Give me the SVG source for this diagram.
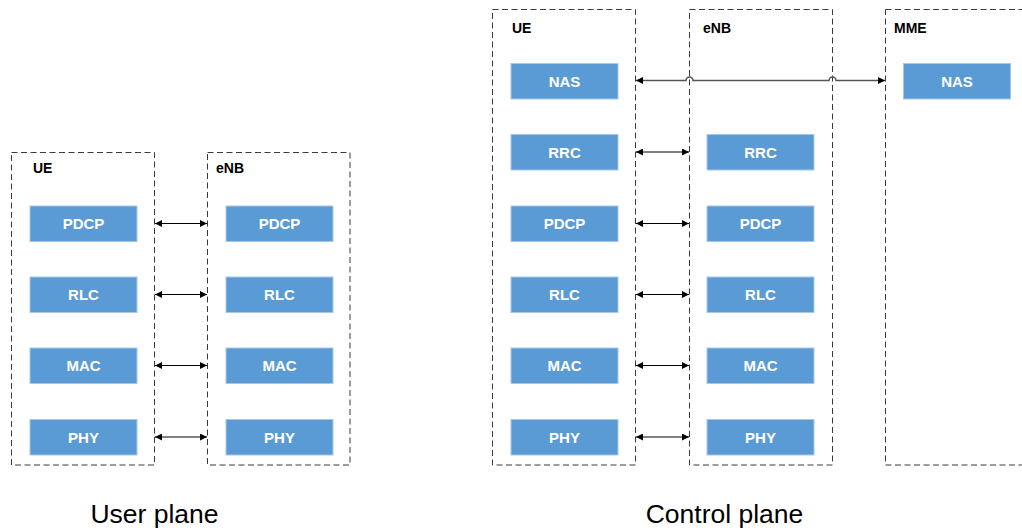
<svg xmlns="http://www.w3.org/2000/svg" width="1022" height="530" viewBox="0 0 1022 530">
<style>
.box{fill:none;stroke:#3a3a3a;stroke-width:1;stroke-dasharray:6 3.5}
.blk{fill:#5b9bd5;stroke:#a8c8e8;stroke-width:1}
.bt{font-family:"Liberation Sans",Arial,sans-serif;font-weight:bold;font-size:15px;fill:#ffffff;text-anchor:middle}
.lbl{font-family:"Liberation Sans",Arial,sans-serif;font-weight:bold;font-size:14px;fill:#000}
.cap{font-family:"Liberation Sans",Arial,sans-serif;font-size:26.5px;fill:#000;text-anchor:middle}
.ar{stroke:#000;stroke-width:1;fill:none;marker-start:url(#ah);marker-end:url(#ah)}
.ar2{stroke:#555;stroke-width:1.5;fill:none;marker-start:url(#ah2);marker-end:url(#ah2)}
</style>
<defs>
<marker id="ah" viewBox="0 0 10 10" refX="10" refY="5" markerWidth="9" markerHeight="7" markerUnits="userSpaceOnUse" orient="auto-start-reverse"><path d="M0,0 L10,5 L0,10 z" fill="#000"/></marker>
<marker id="ah2" viewBox="0 0 10 10" refX="10" refY="5" markerWidth="9" markerHeight="7" markerUnits="userSpaceOnUse" orient="auto-start-reverse"><path d="M0,0 L10,5 L0,10 z" fill="#000"/></marker>
</defs>
<rect width="1022" height="530" fill="#fff"/>

<g id="up-ue">
<rect class="box" x="11.5" y="152.5" width="143" height="312.5"/>
<text class="lbl" x="33" y="173">UE</text>
</g>
<g id="up-enb">
<rect class="box" x="207.5" y="152.5" width="142.5" height="312.5"/>
<text class="lbl" x="216" y="173">eNB</text>
</g>
<g id="cp-ue">
<rect class="box" x="492.5" y="9.5" width="143" height="455.5"/>
<text class="lbl" x="512" y="33">UE</text>
</g>
<g id="cp-enb">
<rect class="box" x="689.5" y="9.5" width="143" height="455.5"/>
<text class="lbl" x="703" y="33">eNB</text>
</g>
<g id="cp-mme">
<rect class="box" x="885.5" y="9.5" width="160" height="455.5"/>
<text class="lbl" x="894" y="33">MME</text>
</g>

<g id="up-ue-pdcp"><rect class="blk" x="30" y="206" width="107" height="35.5"/><text class="bt" x="83.5" y="229">PDCP</text></g>
<g id="up-ue-rlc"><rect class="blk" x="30" y="277" width="107" height="35.5"/><text class="bt" x="83.5" y="300">RLC</text></g>
<g id="up-ue-mac"><rect class="blk" x="30" y="348" width="107" height="35.5"/><text class="bt" x="83.5" y="371">MAC</text></g>
<g id="up-ue-phy"><rect class="blk" x="30" y="419.5" width="107" height="35.5"/><text class="bt" x="83.5" y="442.5">PHY</text></g>

<g id="up-enb-pdcp"><rect class="blk" x="226" y="206" width="107" height="35.5"/><text class="bt" x="279.5" y="229">PDCP</text></g>
<g id="up-enb-rlc"><rect class="blk" x="226" y="277" width="107" height="35.5"/><text class="bt" x="279.5" y="300">RLC</text></g>
<g id="up-enb-mac"><rect class="blk" x="226" y="348" width="107" height="35.5"/><text class="bt" x="279.5" y="371">MAC</text></g>
<g id="up-enb-phy"><rect class="blk" x="226" y="419.5" width="107" height="35.5"/><text class="bt" x="279.5" y="442.5">PHY</text></g>

<g id="cp-ue-nas"><rect class="blk" x="511" y="63.5" width="107" height="35.5"/><text class="bt" x="564.5" y="86.5">NAS</text></g>
<g id="cp-ue-rrc"><rect class="blk" x="511" y="134.5" width="107" height="35.5"/><text class="bt" x="564.5" y="157.5">RRC</text></g>
<g id="cp-ue-pdcp"><rect class="blk" x="511" y="206" width="107" height="35.5"/><text class="bt" x="564.5" y="229">PDCP</text></g>
<g id="cp-ue-rlc"><rect class="blk" x="511" y="277" width="107" height="35.5"/><text class="bt" x="564.5" y="300">RLC</text></g>
<g id="cp-ue-mac"><rect class="blk" x="511" y="348" width="107" height="35.5"/><text class="bt" x="564.5" y="371">MAC</text></g>
<g id="cp-ue-phy"><rect class="blk" x="511" y="419.5" width="107" height="35.5"/><text class="bt" x="564.5" y="442.5">PHY</text></g>

<g id="cp-enb-rrc"><rect class="blk" x="707" y="134.5" width="107" height="35.5"/><text class="bt" x="760.5" y="157.5">RRC</text></g>
<g id="cp-enb-pdcp"><rect class="blk" x="707" y="206" width="107" height="35.5"/><text class="bt" x="760.5" y="229">PDCP</text></g>
<g id="cp-enb-rlc"><rect class="blk" x="707" y="277" width="107" height="35.5"/><text class="bt" x="760.5" y="300">RLC</text></g>
<g id="cp-enb-mac"><rect class="blk" x="707" y="348" width="107" height="35.5"/><text class="bt" x="760.5" y="371">MAC</text></g>
<g id="cp-enb-phy"><rect class="blk" x="707" y="419.5" width="107" height="35.5"/><text class="bt" x="760.5" y="442.5">PHY</text></g>

<g id="cp-mme-nas"><rect class="blk" x="903.5" y="63.5" width="107" height="35.5"/><text class="bt" x="957" y="86.5">NAS</text></g>

<g id="connectors">
<line class="ar" x1="155" y1="223.5" x2="207" y2="223.5"/>
<line class="ar" x1="155" y1="294.5" x2="207" y2="294.5"/>
<line class="ar" x1="155" y1="365.5" x2="207" y2="365.5"/>
<line class="ar" x1="155" y1="437" x2="207" y2="437"/>
<line class="ar" x1="636" y1="152" x2="689" y2="152"/>
<line class="ar" x1="636" y1="223.5" x2="689" y2="223.5"/>
<line class="ar" x1="636" y1="294.5" x2="689" y2="294.5"/>
<line class="ar" x1="636" y1="365.5" x2="689" y2="365.5"/>
<line class="ar" x1="636" y1="437" x2="689" y2="437"/>
<path class="ar2" d="M636,80.5 L686,80.5 A3.5,3.5 0 0 1 693,80.5 L829,80.5 A3.5,3.5 0 0 1 836,80.5 L885,80.5"/>
</g>

<text class="cap" x="154.5" y="523">User plane</text>
<text class="cap" x="724.5" y="523">Control plane</text>
</svg>
